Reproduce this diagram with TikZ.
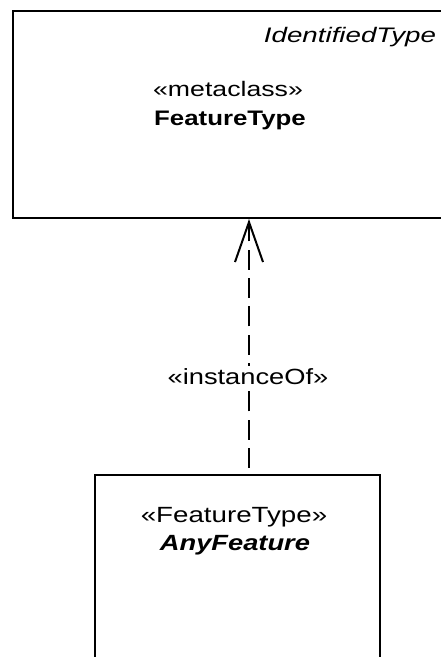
\documentclass[tikz,border=0pt]{standalone}
\usepackage{fontspec}
\usepackage{graphicx}
\setmainfont{Liberation Sans}
\newcommand\widetext[2]{\scalebox{#1}[1]{#2}}
\usetikzlibrary{arrows.meta}
\tikzset{
  umlbox/.style={draw=black, line width=2pt, anchor=north west, inner sep=0pt},
  txt/.style={inner sep=0pt, anchor=base, font=\fontsize{21}{25}\selectfont},
  txtb/.style={inner sep=0pt, anchor=base, font=\fontsize{22}{26}\selectfont},
  dep/.style={line width=2pt, dash pattern=on 20pt off 8.33pt, dash phase=22.3pt,
              -{Straight Barb[length=40pt,width=28pt,line width=2pt]}},
}
\begin{document}
\begin{tikzpicture}[x=1pt,y=-1pt]
\useasboundingbox (0,0) rectangle (441,657);
\clip (0,0) rectangle (441,657);
\fill[white] (0,0) rectangle (441,657);
% top class
\node[umlbox, minimum width=434pt, minimum height=207pt] (meta) at (12,10) {};
\node[txt] (idt) at (350,42) {\widetext{1.32}{\itshape IdentifiedType}};
\node[txt] (st1) at (228,96) {\widetext{1.27}{«metaclass»}};
\node[txt] (nm1) at (230,125) {\widetext{1.23}{\bfseries FeatureType}};
% bottom class
\node[umlbox, minimum width=285pt, minimum height=260pt] (inst) at (94,474) {};
\node[txtb] (st2) at (234,522) {\widetext{1.26}{«FeatureType»}};
\node[txtb] (nm2) at (235,550) {\widetext{1.24}{\bfseries\itshape AnyFeature}};
% dependency
\coordinate (ax) at (249,300);
\draw[dep] (inst.north -| ax) -- (meta.south -| ax);
\node[txtb, fill=white, inner sep=2pt] (lbl) at (248,384) {\widetext{1.24}{«instanceOf»}};
\end{tikzpicture}
\end{document}
